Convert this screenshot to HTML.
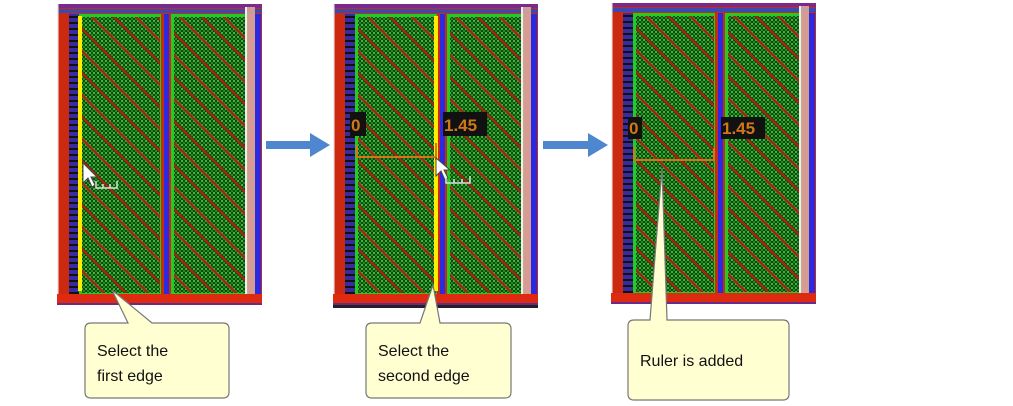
<!DOCTYPE html>
<html><head><meta charset="utf-8"><style>
html,body{margin:0;padding:0;background:#fff;width:1013px;height:406px;overflow:hidden}
svg{display:block}
text{font-family:"Liberation Sans",sans-serif}
</style></head><body>
<svg width="1013" height="406" viewBox="0 0 1013 406" xmlns="http://www.w3.org/2000/svg">
<defs>
<pattern id="chk" width="4" height="4" patternUnits="userSpaceOnUse">
<rect width="4" height="4" fill="#0e4a0e"/>
<rect width="2" height="2" fill="#3ab83a"/>
<rect x="2" y="2" width="2" height="2" fill="#248a24"/>
</pattern>
<pattern id="diag" width="22" height="22" patternUnits="userSpaceOnUse">
<path d="M-6,-6 L28,28" stroke="#a02810" stroke-width="2.5"/>
<path d="M-6,16 L6,28 M16,-6 L28,6" stroke="#a02810" stroke-width="2.5"/>
</pattern>
<pattern id="blu" width="4" height="6" patternUnits="userSpaceOnUse">
<rect width="4" height="6" fill="#3a2aa0"/><rect y="0" width="4" height="2" fill="#111"/>
</pattern>
<g id="panel">
<rect x="0" y="0" width="205" height="300" fill="#cc2a10"/>
<rect x="0" y="0" width="205" height="4" fill="#7a2a8a"/>
<rect x="0" y="5" width="205" height="4" fill="#3a4ab0"/>
<rect x="0" y="0" width="1.5" height="300" fill="#eee"/>
<rect x="12" y="10" width="10" height="280" fill="url(#blu)"/>
<rect x="22" y="10" width="83" height="280" fill="#22cc22"/>
<rect x="25" y="13" width="78" height="276" fill="url(#chk)"/>
<rect x="25" y="13" width="78" height="276" fill="url(#diag)"/>
<rect x="104" y="10" width="12" height="282" fill="#cc2a10"/>
<rect x="107" y="10" width="5" height="282" fill="#2a2ae0"/>
<rect x="114" y="10" width="77" height="280" fill="#22cc22"/>
<rect x="117" y="13" width="72" height="276" fill="url(#chk)"/>
<rect x="117" y="13" width="72" height="276" fill="url(#diag)"/>
<rect x="188" y="3" width="10" height="297" fill="#d8a8a0" opacity="0.9"/>
<rect x="188" y="3" width="2" height="297" fill="#eee"/>
<rect x="198" y="10" width="6" height="280" fill="#2a2ae0"/>
<rect x="0" y="290" width="205" height="10" fill="#dd2a10"/>
<rect x="0" y="299" width="205" height="2" fill="#6a2a8a"/>
</g>
</defs>

<use href="#panel" x="57" y="4"/>
<use href="#panel" x="333" y="4"/>
<use href="#panel" x="611" y="3"/>
<rect x="333" y="305" width="205" height="3" fill="#222"/>

<rect x="78" y="16" width="4" height="275" fill="#ffee00"/>
<path d="M83,163 L83,183 L88,178 L92,187 L95,185 L91,177 L97,177 Z" fill="#fff" stroke="#444" stroke-width="1"/>
<path d="M96,181 V188 H117 V181 M103,188 V184 M110,188 V184" stroke="#ddd" stroke-width="1.5" fill="none"/>

<rect x="434" y="16" width="4" height="275" fill="#ffee00"/>
<rect x="350" y="112" width="16" height="24" fill="#111"/>
<text x="351" y="131" font-size="17" fill="#d07818" font-family="Liberation Mono,monospace" font-weight="bold">0</text>
<rect x="443" y="112" width="44" height="24" fill="#111"/>
<text x="444" y="131" font-size="17" fill="#d07818" font-family="Liberation Mono,monospace" font-weight="bold">1.45</text>
<path d="M357,145 V157 H436 M436,143 V160" stroke="#d07818" stroke-width="2" fill="none"/>
<path d="M436,158 L436,176 L441,171 L445,180 L448,178 L444,170 L450,170 Z" fill="#fff" stroke="#444" stroke-width="1"/>
<path d="M446,176 V183 H470 V176 M454,183 V179 M462,183 V179" stroke="#ddd" stroke-width="1.5" fill="none"/>

<rect x="628" y="117" width="14" height="22" fill="#111"/>
<text x="629" y="134" font-size="17" fill="#d07818" font-family="Liberation Mono,monospace" font-weight="bold">0</text>
<rect x="721" y="117" width="44" height="22" fill="#111"/>
<text x="722" y="134" font-size="17" fill="#d07818" font-family="Liberation Mono,monospace" font-weight="bold">1.45</text>
<path d="M634,147 V160 H714 V148" stroke="#d07818" stroke-width="2" fill="none"/>

<path d="M266,141 H310 V133 L330,145 L310,157 V149 H266 Z" fill="#4f86d0"/>
<path d="M543,141 H588 V133 L608,145 L588,157 V149 H543 Z" fill="#4f86d0"/>

<path d="M92,323 H128 L112,290 L152,323 H223 Q229,323 229,329 V392 Q229,398 223,398 H91 Q85,398 85,392 V329 Q85,323 91,323 Z" fill="#ffffd2" stroke="#777" stroke-width="1.2"/>
<text x="97" y="356" font-size="16" fill="#111">Select the</text>
<text x="97" y="381" font-size="16" fill="#111">first edge</text>
<path d="M372,323 H420 L433,285 L440,323 H505 Q511,323 511,329 V392 Q511,398 505,398 H372 Q366,398 366,392 V329 Q366,323 372,323 Z" fill="#ffffd2" stroke="#777" stroke-width="1.2"/>
<text x="378" y="356" font-size="16" fill="#111">Select the</text>
<text x="378" y="381" font-size="16" fill="#111">second edge</text>
<path d="M634,320 H650 L662,168 L667,320 H783 Q789,320 789,326 V394 Q789,400 783,400 H634 Q628,400 628,394 V326 Q628,320 634,320 Z" fill="#ffffd2" stroke="#777" stroke-width="1.2"/>
<text x="640" y="366" font-size="16" fill="#111">Ruler is added</text>
</svg>
</body></html>
